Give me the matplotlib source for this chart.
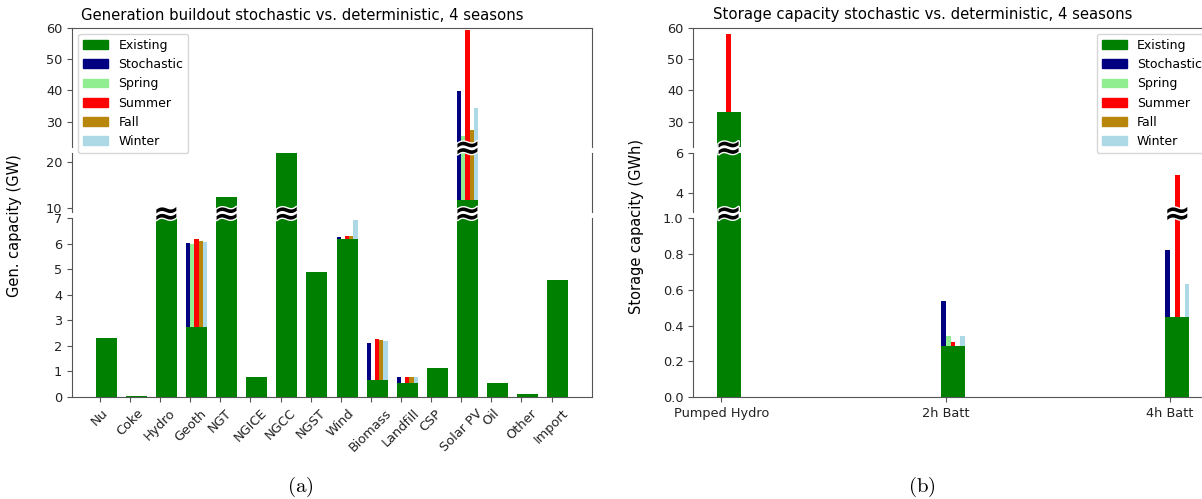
import numpy as np
import matplotlib
matplotlib.use("Agg")
import matplotlib.pyplot as plt
from matplotlib.patches import Patch
import matplotlib.transforms as mtransforms
import matplotlib.patheffects as pe

plt.rcParams['mathtext.fontset'] = 'cm'
plt.rcParams['axes.edgecolor'] = '#555555'
plt.rcParams['xtick.color'] = '#555555'
plt.rcParams['ytick.color'] = '#555555'
plt.rcParams['xtick.labelcolor'] = '#222222'
plt.rcParams['ytick.labelcolor'] = '#222222'

# ---- data (GW / GWh), totals per scenario ----
gen_labels = ['Nu', 'Coke', 'Hydro', 'Geoth', 'NGT', 'NGICE', 'NGCC', 'NGST', 'Wind',
              'Biomass', 'Landfill', 'CSP', 'Solar PV', 'Oil', 'Other', 'Import']
gen_existing = [2.33, 0.05, 10.05, 2.73, 12.3, 0.8, 22.0, 4.88, 6.18, 0.65, 0.55, 1.13, 11.6, 0.55, 0.12, 4.6]
gen_stochastic = [2.33, 0.05, 10.05, 6.05, 12.3, 0.8, 22.0, 4.88, 6.26, 2.1, 0.78, 1.13, 39.7, 0.55, 0.12, 4.6]
gen_spring = [2.33, 0.05, 10.05, 6.0, 12.3, 0.8, 22.0, 4.88, 6.18, 0.65, 0.55, 1.13, 25.5, 0.55, 0.12, 4.6]
gen_summer = [2.33, 0.05, 10.05, 6.18, 12.3, 0.8, 22.0, 4.88, 6.3, 2.27, 0.78, 1.13, 59.3, 0.55, 0.12, 4.6]
gen_fall = [2.33, 0.05, 10.05, 6.11, 12.3, 0.8, 22.0, 4.88, 6.3, 2.23, 0.78, 1.13, 27.5, 0.55, 0.12, 4.6]
gen_winter = [2.33, 0.05, 10.05, 6.07, 12.3, 0.8, 22.0, 4.88, 6.92, 2.19, 0.78, 1.13, 34.5, 0.55, 0.12, 4.6]

sto_labels = ['Pumped Hydro', '2h Batt', '4h Batt']
sto_existing = [33.0, 0.287, 0.45]
sto_stochastic = [33.0, 0.539, 0.82]
sto_spring = [33.0, 0.339, 0.45]
sto_summer = [58.0, 0.307, 4.87]
sto_fall = [33.0, 0.287, 0.45]
sto_winter = [33.0, 0.339, 0.635]

series_names = ['Stochastic', 'Spring', 'Summer', 'Fall', 'Winter']
series_colors = ['navy', 'lightgreen', 'red', 'darkgoldenrod', 'lightblue']

W, H = 1202, 499
fig = plt.figure(figsize=(W / 100, H / 100), dpi=100)

# panel edges in pixels (top, middle, bottom segment)
panel_top = [27.7, 152.8, 218.3]
panel_bot = [146.8, 212.4, 397.0]


def broken_chart(x0, x1, labels, existing, scen, ylims, yticks, bw, title, title_x, loc, rot):
    axs = []
    for i in range(3):
        rect = [x0 / W, 1 - panel_bot[i] / H, (x1 - x0) / W, (panel_bot[i] - panel_top[i]) / H]
        ax = fig.add_axes(rect, sharex=axs[0] if axs else None)
        axs.append(ax)
    x = np.arange(len(labels))
    for ax, yl, yt in zip(axs, ylims, yticks):
        for k, vals in enumerate(scen):
            ax.bar(x + (k - 0.5) * bw, vals, width=bw, color=series_colors[k], zorder=2)
        ax.bar(x + 1.5 * bw, existing, width=5 * bw, color='green', zorder=3)
        ax.set_ylim(*yl)
        ax.set_yticks(yt)
        ax.tick_params(labelsize=9.3)
    axs[0].spines['bottom'].set_visible(False)
    axs[1].spines['top'].set_visible(False)
    axs[1].spines['bottom'].set_visible(False)
    axs[2].spines['top'].set_visible(False)
    for ax in axs[:2]:
        ax.tick_params(axis='x', bottom=False, labelbottom=False)
    axs[2].set_xticks(x)
    if rot:
        axs[2].set_xticklabels(labels, rotation=rot)
    else:
        axs[2].set_xticklabels(labels)
    # top segment on top so the legend can hang over the gap
    axs[0].set_zorder(5)
    axs[0].patch.set_alpha(0)

    fig.text(title_x / W, 1 - 15 / H, title, ha='center', va='center', fontsize=10.7)

    # break markers on bars crossing a segment boundary
    trans = mtransforms.blended_transform_factory(axs[2].transData, fig.transFigure)
    tallest = np.max(np.vstack([existing] + scen), axis=0)
    halo = [pe.withStroke(linewidth=2, foreground='white')]
    for i, v in enumerate(tallest):
        cx = x[i] + 1.5 * bw
        if v > ylims[2][1]:
            fig.text(cx, 1 - 215.0 / H, '\u2248', transform=trans, ha='center', va='center',
                     fontsize=23, fontweight='bold', color='black', zorder=10, path_effects=halo)
        if v > ylims[1][1]:
            fig.text(cx, 1 - 149.3 / H, '\u2248', transform=trans, ha='center', va='center',
                     fontsize=23, fontweight='bold', color='black', zorder=10, path_effects=halo)

    handles = [Patch(color='green', label='Existing')]
    handles += [Patch(color=c, label=n) for c, n in zip(series_colors, series_names)]
    leg = axs[0].legend(handles=handles, loc=loc, fontsize=9)
    leg.set_zorder(20)
    return axs


gen_scen = [gen_stochastic, gen_spring, gen_summer, gen_fall, gen_winter]
broken_chart(72, 592, gen_labels, gen_existing, gen_scen,
             [(22, 60), (9, 22), (0, 7)],
             [[30, 40, 50, 60], [10, 20], list(range(8))],
             0.14, 'Generation buildout stochastic vs. deterministic, 4 seasons', 302,
             'upper left', 45)

sto_scen = [sto_stochastic, sto_spring, sto_summer, sto_fall, sto_winter]
broken_chart(693, 1213, sto_labels, sto_existing, sto_scen,
             [(22, 60), (3, 6), (0, 1.0)],
             [[30, 40, 50, 60], [4, 6], [0.0, 0.2, 0.4, 0.6, 0.8, 1.0]],
             0.0214, 'Storage capacity stochastic vs. deterministic, 4 seasons', 923,
             'upper right', 0)

fig.text(15 / W, 1 - 226 / H, 'Gen. capacity (GW)', rotation=90, ha='center', va='center', fontsize=10.5)
fig.text(636 / W, 1 - 226 / H, 'Storage capacity (GWh)', rotation=90, ha='center', va='center', fontsize=10.5)

fig.text(300 / W, 1 - 487 / H, r'$\mathrm{(a)}$', ha='center', va='center', fontsize=15)
fig.text(922 / W, 1 - 487 / H, r'$\mathrm{(b)}$', ha='center', va='center', fontsize=15)

fig.savefig('out.png', dpi=100)
